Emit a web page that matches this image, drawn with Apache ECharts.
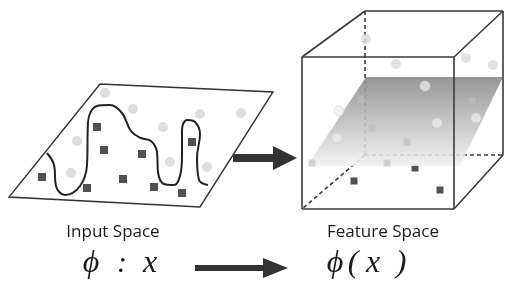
<!DOCTYPE html>
<html>
<head>
<meta charset="utf-8">
<script src="https://cdn.jsdelivr.net/npm/echarts@6/dist/echarts.min.js"></script>
<style>
html, body { margin: 0; padding: 0; background: #fff; }
#chart { width: 505px; height: 284px; }
</style>
</head>
<body>
<div id="chart"></div>
<script>
// 输入空间（左边的平行四边形）
const inputPlane = [[100, 84], [273, 92], [200, 207], [9, 197]]
const boundaryCurve = [
  [47, 153], [54, 165], [56, 186], [65, 195], [80, 186], [87, 165], [88, 122], [97, 106],
  [110, 105], [122, 113], [131, 131], [141, 138], [151, 141], [157, 152], [158, 172],
  [164, 184], [174, 185], [180, 176], [182, 156], [182, 130], [187, 120], [195, 122],
  [200, 134], [197, 158], [199, 180], [208, 185]
]
const inputCircles = [
  [105, 93], [133, 109], [200, 114], [241, 113], [163, 127], [77, 141], [170, 162], [71, 173], [207, 167]
]
const inputSquares = [
  [97, 127], [192, 142], [104, 150], [142, 154], [42, 177], [123, 179], [87, 188], [154, 187], [182, 193]
]

// 特征空间（右边的立方体）
const featurePlane = [[366, 77], [503, 77], [460, 166], [307, 166]]
const cubeSolidEdges = [
  [[302, 57], [454, 57]], [[454, 57], [454, 209]], [[454, 209], [302, 209]], [[302, 209], [302, 57]],
  [[302, 57], [365, 11]], [[365, 11], [503, 11]], [[503, 11], [454, 57]],
  [[503, 11], [503, 155]], [[503, 155], [454, 209]]
]
const cubeDashedEdges = [
  [[365, 11], [365, 155]], [[365, 155], [503, 155]], [[365, 155], [302, 209]]
]
const cubeCirclesAbove = [[366, 39], [396, 64], [466, 58], [493, 65]]
const cubeCirclesOnPlane = [[425, 86], [339, 111], [437, 123], [476, 118], [337, 138]]
const cubeSquaresOnPlane = [[361, 99], [472, 101], [372, 128], [407, 142], [312, 163], [387, 163]]
const cubeSquaresBelow = [[415, 168], [354, 181], [440, 190]]

// 箭头 [起点x, 终点x, y]
const bigArrow = [[233, 297, 158]]
const formulaArrow = [[195, 288, 268]]

const chart = echarts.init(document.getElementById('chart'))

function polygonItem(points, style) {
  return (params, api) => ({
    type: 'polygon',
    shape: { points: points.map((p) => api.coord(p)) },
    style: style
  })
}

function arrowItem(barHalf, headLen, headHalf) {
  return (params, api) => {
    const s = api.coord([api.value(0), api.value(2)])
    const e = api.coord([api.value(1), api.value(2)])
    const hx = e[0] - headLen
    return {
      type: 'polygon',
      shape: {
        points: [
          [s[0], s[1] - barHalf], [hx, s[1] - barHalf], [hx, s[1] - headHalf], [e[0], e[1]],
          [hx, s[1] + headHalf], [hx, s[1] + barHalf], [s[0], s[1] + barHalf]
        ]
      },
      style: { fill: '#333' }
    }
  }
}

const edgeSeries = (edges, dashed, z) =>
  edges.map((edge) => ({
    type: 'line',
    data: edge,
    symbol: 'none',
    silent: true,
    z: z,
    lineStyle: { color: '#3a3a3a', width: 1.6, type: dashed ? [4, 3] : 'solid' }
  }))

const textStyle = (text, font) => ({ text: text, font: font, fill: '#1a1a1a', align: 'center', verticalAlign: 'middle' })
const mathFont = 'italic 32px "Liberation Serif"'

const options = {
  animation: false,
  grid: { left: 0, right: 0, top: 0, bottom: 0 },
  xAxis: { type: 'value', min: 0, max: 505, show: false },
  yAxis: { type: 'value', min: 0, max: 284, inverse: true, show: false },
  series: [
    {
      type: 'custom',
      data: [0],
      z: 1,
      renderItem: polygonItem(inputPlane, { fill: '#fff', stroke: '#333', lineWidth: 1.4 })
    },
    {
      type: 'line',
      data: boundaryCurve,
      smooth: 0.4,
      symbol: 'none',
      z: 3,
      lineStyle: { color: '#222', width: 2 }
    },
    {
      type: 'scatter',
      data: inputCircles,
      symbol: 'circle',
      symbolSize: 10,
      z: 2,
      itemStyle: { color: '#d6d6d6' }
    },
    {
      type: 'scatter',
      data: inputSquares,
      symbol: 'rect',
      symbolSize: 8,
      z: 4,
      itemStyle: { color: '#262626' }
    },
    {
      type: 'custom',
      data: bigArrow,
      z: 4,
      renderItem: arrowItem(4, 24, 12)
    },
    ...edgeSeries(cubeDashedEdges, true, 2),
    {
      type: 'scatter',
      data: cubeSquaresBelow,
      symbol: 'rect',
      symbolSize: 7,
      z: 3,
      itemStyle: { color: '#262626' }
    },
    {
      type: 'custom',
      data: [0],
      z: 5,
      renderItem: polygonItem(featurePlane, {
        fill: new echarts.graphic.LinearGradient(0, 0, 0, 1, [
          { offset: 0, color: 'rgba(140,140,140,0.92)' },
          { offset: 1, color: 'rgba(242,242,242,0.88)' }
        ])
      })
    },
    {
      type: 'scatter',
      data: cubeSquaresOnPlane,
      symbol: 'rect',
      symbolSize: 7,
      z: 6,
      itemStyle: { color: 'rgba(190,190,190,0.8)' }
    },
    {
      type: 'scatter',
      data: cubeCirclesOnPlane,
      symbol: 'circle',
      symbolSize: 10,
      z: 6,
      itemStyle: { color: 'rgba(238,238,238,0.9)', borderColor: '#cfcfcf', borderWidth: 0.8 }
    },
    {
      type: 'scatter',
      data: cubeCirclesAbove,
      symbol: 'circle',
      symbolSize: 10,
      z: 6,
      itemStyle: { color: '#d9d9d9' }
    },
    ...edgeSeries(cubeSolidEdges, false, 7),
    {
      type: 'custom',
      data: formulaArrow,
      z: 4,
      renderItem: arrowItem(3, 25, 10)
    }
  ],
  graphic: [
    { type: 'text', x: 113, y: 232, style: textStyle('Input Space', '17px "Open Sans"') },
    { type: 'text', x: 383, y: 232, style: textStyle('Feature Space', '17px "Open Sans"') },
    { type: 'text', x: 91, y: 264, style: textStyle('ϕ', mathFont) },
    { type: 'text', x: 122, y: 264, style: textStyle(':', 'italic 30px "Liberation Serif"') },
    { type: 'text', x: 150, y: 264, style: textStyle('x', mathFont) },
    { type: 'text', x: 335, y: 264, style: textStyle('ϕ', mathFont) },
    { type: 'text', x: 353, y: 264, style: textStyle('(', mathFont) },
    { type: 'text', x: 373, y: 264, style: textStyle('x', mathFont) },
    { type: 'text', x: 401, y: 264, style: textStyle(')', mathFont) }
  ]
}

chart.setOption(options)
</script>
</body>
</html>
